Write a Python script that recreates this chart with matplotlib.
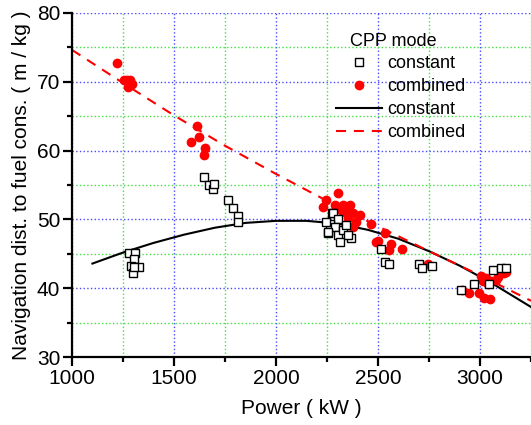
import matplotlib.pyplot as plt
from matplotlib.ticker import MultipleLocator
import numpy as np

plt.rcParams['font.family'] = ['Liberation Sans', 'DejaVu Sans']

# measured points, constant CPP mode
power_const = [1281, 1308, 1305, 1287, 1328, 1300, 1305,
               1649, 1672, 1692, 1695, 1767, 1790, 1815, 1815,
               2275, 2280, 2305, 2263, 2288, 2253, 2305, 2328, 2345, 2312, 2369, 2352, 2246, 2255,
               2516, 2533, 2554, 2703, 2716, 2763,
               2907, 2970, 3046, 3062, 3103, 3127]
nav_const = [45.1, 45.1, 44.2, 43.2, 43.1, 42.2, 43.1,
             56.1, 55.0, 54.4, 55.2, 52.8, 51.7, 50.5, 49.6,
             51.0, 50.9, 50.0, 49.4, 48.9, 48.0, 47.7, 48.5, 49.2, 46.8, 47.3, 47.7, 49.6, 48.2,
             45.7, 43.9, 43.5, 43.6, 43.0, 43.3,
             39.8, 40.7, 40.7, 42.7, 42.9, 42.9]

# measured points, combined CPP mode
power_comb = [1219, 1255, 1268, 1284, 1276, 1292,
              1614, 1624, 1581, 1652, 1647,
              2303, 2243, 2230, 2288, 2328, 2361, 2336, 2377, 2410, 2352, 2393, 2377, 2467, 2533,
              2500, 2320, 2491, 2565, 2556, 2618, 2744,
              2910, 2948, 2994, 3018, 3051, 3005, 3029, 3054, 3078, 3086, 3119, 3127, 3013, 3037]
nav_comb = [72.7, 70.2, 70.2, 70.3, 69.2, 69.7,
            63.6, 61.9, 61.3, 60.4, 59.3,
            53.9, 52.8, 51.8, 52.1, 52.1, 52.1, 51.1, 50.9, 50.6, 50.2, 49.7, 48.9, 49.3, 48.0,
            46.9, 51.4, 46.8, 46.5, 45.6, 45.7, 43.6,
            39.8, 39.3, 39.3, 38.6, 38.4, 41.8, 41.5, 41.0, 41.2, 41.7, 42.2, 42.4, 41.0, 40.7]

# fitted curves
fit_const_x = [1100, 1250, 1400, 1550, 1700, 1850, 2000, 2150, 2300, 2450, 2600, 2750, 2900, 3050, 3200, 3250]
fit_const_y = [43.6, 45.2, 46.6, 47.8, 48.8, 49.5, 49.8, 49.8, 49.4, 48.5, 47.2, 45.4, 43.3, 40.9, 38.2, 37.3]
fit_comb_x = [1000, 1250, 1500, 1750, 2000, 2250, 2500, 2750, 3000, 3250]
fit_comb_y = [74.6, 69.8, 65.1, 60.7, 56.6, 52.7, 49.0, 45.4, 41.9, 38.2]

fig = plt.figure(figsize=(5.31, 4.25), dpi=100)
ax = fig.add_axes([0.1356, 0.1593, 0.8644, 0.8108])

ax.plot(power_comb, nav_comb, 'o', color='red', markersize=6, label='combined', zorder=3)
ax.plot(power_const, nav_const, 's', mfc='white', mec='black', mew=1.0, markersize=6,
        label='constant', zorder=4)
ax.plot(fit_const_x, fit_const_y, '-', color='black', lw=1.5, label='constant', zorder=2)
ax.plot(fit_comb_x, fit_comb_y, '--', color='red', lw=1.5, dashes=(4.8, 3.8), label='combined', zorder=2)

ax.set_xlim(1000, 3250)
ax.set_ylim(30, 80)
ax.xaxis.set_major_locator(MultipleLocator(500))
ax.xaxis.set_minor_locator(MultipleLocator(250))
ax.yaxis.set_major_locator(MultipleLocator(10))
ax.yaxis.set_minor_locator(MultipleLocator(5))
ax.set_xticks([1000, 1500, 2000, 2500, 3000])

ax.grid(which='major', color='#4a4aff', linestyle=':', lw=1.0)
ax.grid(which='minor', color='#44e044', linestyle=':', lw=1.0)
ax.set_axisbelow(True)

for s in ['top', 'right']:
    ax.spines[s].set_visible(False)
for s in ['left', 'bottom']:
    ax.spines[s].set_linewidth(1.6)
ax.tick_params(which='major', direction='out', length=6.5, width=1.6, labelsize=15, pad=2)
ax.tick_params(which='minor', direction='out', length=3.5, width=1.6)

ax.set_xlabel('Power ( kW )', fontsize=15, labelpad=8)
ax.set_ylabel('Navigation dist. to fuel cons. ( m / kg )', fontsize=15, labelpad=4)

h, l = ax.get_legend_handles_labels()
order = [1, 0, 2, 3]
fig.text(350 / 531, 1 - 41 / 425, 'CPP mode', fontsize=13, va='center', ha='left')
leg = ax.legend([h[i] for i in order], [l[i] for i in order],
                loc='upper left', bbox_to_anchor=(336 / 531, 1 - 55 / 425),
                bbox_transform=fig.transFigure, frameon=False, fontsize=13,
                handlelength=2.55, handletextpad=0.28, borderaxespad=0,
                labelspacing=0.33, borderpad=0)

fig.savefig('out.png', dpi=100)
